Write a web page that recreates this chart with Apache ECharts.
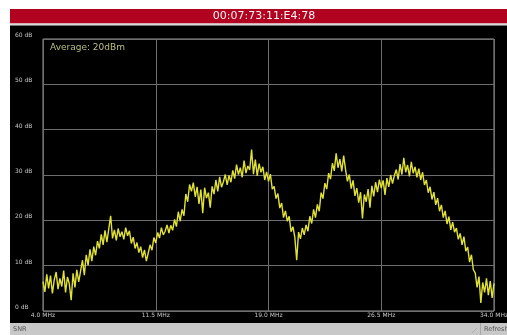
<!DOCTYPE html>
<html>
<head>
<meta charset="utf-8">
<script src="https://cdn.jsdelivr.net/npm/echarts@6/dist/echarts.min.js"></script>
<style>
  html, body { margin: 0; padding: 0; background: #fff; }
  #chart { width: 507px; height: 335px; }
</style>
</head>
<body>
<div id="chart"></div>
<script>
// Device MAC shown in the title bar
const deviceId = '00:07:73:11:E4:78';
const averageText = 'Average: 20dBm';

// Frequency sweep: 4.0 MHz to 34.0 MHz in 0.125 MHz bins (241 bins)
const freqStart = 4.0;
const freqStep = 0.125;
const freqTickLabels = ['4.0 MHz', '11.5 MHz', '19.0 MHz', '26.5 MHz', '34.0 MHz'];
const dbTickLabels = ['0 dB', '10 dB', '20 dB', '30 dB', '40 dB', '50 dB', '60 dB'];

// Measured SNR per bin (dB)
const snrDb = [
  6.5, 4.2, 8.1, 5.0, 7.8, 3.9, 6.9, 8.6, 4.8, 7.2,
  5.4, 8.9, 4.1, 7.5, 6.0, 2.4, 8.3, 5.2, 9.1, 6.4,
  8.8, 11.2, 7.9, 12.4, 10.1, 13.6, 11.0, 14.2, 12.3, 15.4,
  13.8, 16.9, 14.6, 17.8, 15.2, 18.1, 21.0, 16.0, 17.9, 15.6,
  18.2, 16.4, 17.5, 15.8, 18.4, 16.6, 17.7, 14.9, 16.3, 13.8,
  15.1, 12.9, 14.2, 11.8, 13.5, 11.0, 12.8, 14.6, 13.4, 16.2,
  15.0, 17.3, 16.1, 18.4, 16.8, 17.6, 19.0, 17.2, 18.9, 17.8,
  20.2, 18.6, 21.9, 19.8, 22.4, 21.0, 25.8, 24.1, 27.9, 26.4,
  28.3, 25.2, 27.4, 23.6, 26.8, 21.6, 27.2, 24.9, 26.1, 22.8,
  27.5, 25.8, 28.9, 26.4, 29.6, 27.3, 28.5, 30.1, 27.8, 29.9,
  28.4, 31.0, 29.2, 32.3, 30.1, 31.6, 29.5, 33.2, 30.4, 32.0,
  31.1, 35.6, 30.2, 33.4, 29.8, 32.5, 30.6, 31.8, 28.9, 30.7,
  28.6, 30.2, 26.9, 27.5, 24.8, 25.9, 22.7, 23.8, 20.6, 22.1,
  19.8, 20.9, 17.5, 18.6, 16.3, 11.2, 17.4, 15.9, 18.3, 16.8,
  19.0, 17.6, 20.9, 19.3, 22.4, 20.6, 23.5, 22.0, 26.1, 24.8,
  28.2, 26.9, 30.4, 29.1, 32.6, 30.9, 34.8, 31.6, 33.5, 30.8,
  34.3, 31.2, 28.6, 30.1, 27.0, 28.8, 25.4, 27.1, 23.9, 26.2,
  20.4, 25.7, 24.1, 26.9, 22.8, 27.6, 25.3, 28.4, 26.2, 29.0,
  27.1, 28.8, 25.6, 29.3, 27.4, 30.0, 28.1, 29.9, 31.2, 29.0,
  32.4, 30.1, 33.8, 30.6, 32.2, 29.7, 32.9, 30.4, 31.8, 29.5,
  31.4, 28.9, 30.6, 27.8, 28.9, 26.1, 27.4, 24.6, 26.2, 23.4,
  24.9, 22.0, 23.4, 20.6, 22.1, 19.2, 20.8, 17.9, 19.6, 17.4,
  18.3, 15.8, 17.1, 14.6, 16.4, 13.2, 14.1, 10.8, 12.4, 9.1,
  8.4, 5.2, 7.6, 1.8, 6.3, 4.1, 7.2, 3.5, 6.6, 2.9,
  6.1
];

const binsPerTick = (7.5 / freqStep); // 60 bins between labelled frequencies
const lastBin = snrDb.length - 1;

const chart = echarts.init(document.getElementById('chart'), null, { renderer: 'canvas' });

chart.setOption({
  backgroundColor: '#ffffff',
  animation: false,
  graphic: [
    // window frame: title bar, dark plot panel, status bar
    { type: 'rect', z: -10, shape: { x: 10, y: 9, width: 497, height: 14.5 }, style: { fill: '#b1021f' } },
    { type: 'rect', z: -10, shape: { x: 10, y: 23.5, width: 497, height: 2 }, style: { fill: '#d9d9d9' } },
    { type: 'rect', z: -10, shape: { x: 10, y: 25.5, width: 497, height: 297.5 }, style: { fill: '#000000' } },
    { type: 'rect', z: -10, shape: { x: 10, y: 323, width: 497, height: 12 }, style: { fill: '#c8c8c8' } },
    { type: 'line', z: -9, shape: { x1: 480.5, y1: 323, x2: 480.5, y2: 335 }, style: { stroke: '#a8a8a8', lineWidth: 1 } },
    { type: 'line', z: -9, shape: { x1: 472, y1: 333, x2: 477, y2: 328 }, style: { stroke: '#b0b0b0', lineWidth: 1 } },
    {
      type: 'text', z: 50, x: 264, y: 16.5,
      style: {
        text: deviceId, fill: '#f4f4f4', font: '11px "DejaVu Sans"',
        textAlign: 'center', textVerticalAlign: 'middle'
      }
    },
    {
      type: 'text', z: 50, x: 50, y: 47.5,
      style: {
        text: averageText, fill: '#bdbd82', font: '9px "DejaVu Sans"',
        textAlign: 'left', textVerticalAlign: 'middle'
      }
    },
    {
      type: 'text', z: 50, x: 13, y: 329.5,
      style: {
        text: 'SNR', fill: '#555555', font: '6.5px "DejaVu Sans"',
        textAlign: 'left', textVerticalAlign: 'middle'
      }
    },
    {
      type: 'text', z: 50, x: 484, y: 329.5,
      style: {
        text: 'Refresh', fill: '#555555', font: '6.5px "DejaVu Sans"',
        textAlign: 'left', textVerticalAlign: 'middle'
      }
    }
  ],
  grid: {
    left: 43, top: 39, right: 13, bottom: 24,
    outerBoundsMode: 'none',
    containLabel: false,
    show: true, borderColor: '#9a9a9a', borderWidth: 1, backgroundColor: 'transparent'
  },
  xAxis: {
    type: 'value',
    min: 0, max: lastBin, interval: binsPerTick,
    axisLine: { show: false },
    axisTick: { show: false },
    splitLine: { show: true, lineStyle: { color: '#6e6e6e', width: 1 } },
    axisLabel: {
      color: '#c8c8c8', fontSize: 6, fontFamily: 'DejaVu Sans', margin: 1,
      showMinLabel: true, showMaxLabel: true, hideOverlap: false,
      formatter: (v) => freqTickLabels[Math.round(v / binsPerTick)]
    }
  },
  yAxis: {
    type: 'value',
    min: 0, max: 60, interval: 10,
    axisLine: { show: false },
    axisTick: { show: false },
    splitLine: { show: true, lineStyle: { color: '#6e6e6e', width: 1 } },
    axisLabel: {
      color: '#c8c8c8', fontSize: 6, fontFamily: 'DejaVu Sans',
      align: 'left', margin: 28, verticalAlign: 'bottom', lineHeight: 7,
      formatter: (v) => dbTickLabels[Math.round(v / 10)]
    }
  },
  series: [{
    type: 'line',
    data: snrDb.map((v, i) => [i, v]),
    showSymbol: false,
    symbol: 'none',
    lineStyle: { color: '#e2e236', width: 1.4 },
    clip: true
  }]
});
</script>
</body>
</html>
